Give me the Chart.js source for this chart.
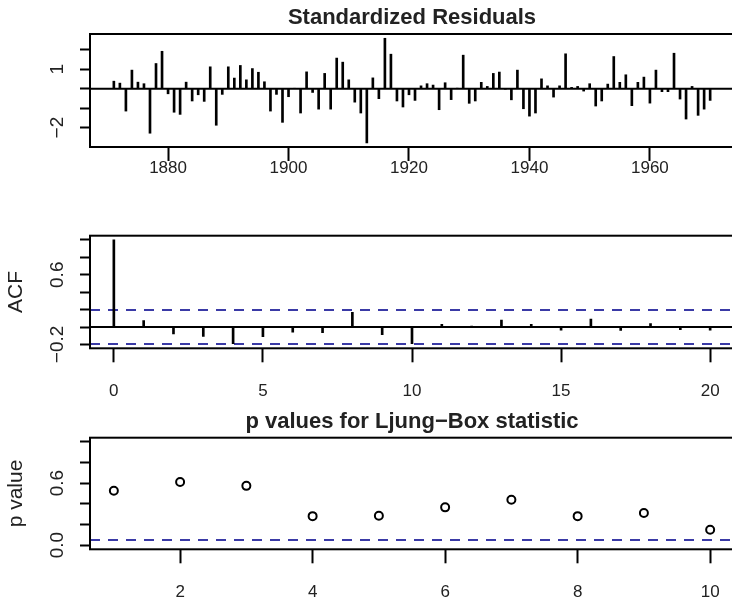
<!DOCTYPE html>
<html>
<head>
<meta charset="utf-8">
<script src="https://cdn.jsdelivr.net/npm/chart.js@4.4.1/dist/chart.umd.min.js"></script>
<style>
html, body { margin: 0; padding: 0; background: #fff; overflow: hidden; }
#wrap { position: relative; width: 732px; height: 606px; overflow: hidden; }
canvas { position: absolute; left: 0; }
</style>
</head>
<body>
<div id="wrap">
  <canvas id="resid" width="740" height="212" style="top:0px"></canvas>
  <canvas id="acf" width="740" height="198" style="top:212px"></canvas>
  <canvas id="lb" width="740" height="206" style="top:400px"></canvas>
</div>
<script>
// standardized residuals, 1871..1970
const firstYear = 1871
const resid = [
    0.39, 0.29, -1.15, 0.96, 0.34, 0.26, -2.29, 1.30, 1.93, -0.26,
    -1.21, -1.32, 0.34, -0.63, -0.31, -0.65, 1.13, -1.88, -0.29, 1.13,
    0.55, 1.20, 0.46, 1.04, 0.85, 0.36, -1.15, -0.29, -1.73, -0.41,
    0.02, -1.25, 0.87, -0.19, -1.05, 0.79, -1.05, 1.58, 1.37, 0.46,
    -0.69, -1.25, -2.79, 0.56, -0.51, 2.60, 1.78, -0.63, -0.94, -0.31,
    -0.60, 0.15, 0.26, 0.19, -1.08, 0.31, -0.56, 0.03, 1.73, -0.75,
    -0.63, 0.33, 0.12, 0.79, 0.86, -0.02, -0.57, 0.96, -1.03, -1.41,
    -1.25, 0.51, 0.15, -0.43, 0.15, 1.80, 0.07, 0.12, -0.12, 0.26,
    -0.89, -0.63, 0.24, 1.66, 0.33, 0.72, -0.87, 0.33, 0.60, -0.74,
    0.96, -0.15, -0.15, 1.83, -0.53, -1.56, 0.12, -1.37, -1.05, -0.60
]
const years = resid.map((v, i) => firstYear + i)
const residXTicks = [1880, 1900, 1920, 1940, 1960]
const residYTicks = [-2, -1, 0, 1, 2]
const residYLabels = ['\u22122', '', '', '1', '']

// ACF of residuals
const acfLags = [0, 1, 2, 3, 4, 5, 6, 7, 8, 9, 10, 11, 12, 13, 14, 15, 16, 17, 18, 19, 20]
const acfValues = [1.0, 0.073, -0.08, -0.107, -0.19, -0.11, -0.06, -0.065, 0.17, -0.088, -0.19,
    0.03, 0.01, 0.08, 0.03, -0.035, 0.092, -0.04, 0.04, -0.03, -0.035]
const acfBound = 0.196
const acfXTicks = [0, 5, 10, 15, 20]
const acfYTicks = [-0.2, 0, 0.2, 0.4, 0.6, 0.8, 1.0]
const acfYLabels = ['\u22120.2', '', '', '', '0.6', '', '']

// Ljung-Box p values
const lbLags = [1, 2, 3, 4, 5, 6, 7, 8, 9, 10]
const lbPvals = [0.527, 0.612, 0.574, 0.281, 0.284, 0.366, 0.439, 0.281, 0.312, 0.149]
const lbBound = 0.05
const lbXTicks = [2, 4, 6, 8, 10]
const lbYTicks = [0, 0.2, 0.4, 0.6, 0.8, 1.0]
const lbYLabels = ['0.0', '', '', '0.6', '', '']

const sans = "'Liberation Sans', Arial, sans-serif"
const ink = '#222'
const blue = '#3a3aa6'
const yFontSize = 19
const xFontSize = 17

Chart.defaults.animation = false
Chart.defaults.color = ink

// R-like box round the plot region
const frame = {
    id: 'frame',
    afterDatasetsDraw(chart) {
        const a = chart.chartArea
        const c = chart.ctx
        c.save()
        c.lineWidth = 2
        c.strokeStyle = '#000'
        c.strokeRect(a.left, a.top, a.right - a.left, a.bottom - a.top)
        c.restore()
    }
}

// padding so rotated y labels are centred at x=58
var mctx = document.createElement('canvas').getContext('2d')
function yPad(labels) {
    mctx.font = yFontSize + "px " + sans
    var widest = Math.max.apply(Math, labels.map(l => mctx.measureText(l).width))
    return 90 - 58 - 10 - widest / 2
}

function xScale(min, max, ticks, h, pad) {
    return {
        type: 'linear',
        min: min,
        max: max,
        offset: false,
        afterBuildTicks: s => { s.ticks = ticks.map(v => ({ value: v })) },
        afterFit: s => { s.height = h },
        grid: { display: true, offset: false, drawOnChartArea: false, drawTicks: true, tickLength: 14, tickWidth: 2, tickColor: '#000' },
        border: { display: false },
        ticks: {
            autoSkip: false, maxRotation: 0, padding: pad, color: ink,
            font: { family: sans, size: xFontSize },
            callback: v => String(v)
        }
    }
}

function yScale(min, max, ticks, labels, title) {
    return {
        type: 'linear',
        min: min,
        max: max,
        afterBuildTicks: s => { s.ticks = ticks.map(v => ({ value: v })) },
        afterFit: s => { s.width = 90 },
        grid: { display: true, offset: false, drawOnChartArea: false, drawTicks: true, tickLength: 10, tickWidth: 2, tickColor: '#000' },
        border: { display: false },
        ticks: {
            autoSkip: false, minRotation: 90, maxRotation: 90, crossAlign: 'center',
            padding: yPad(labels), color: ink,
            font: { family: sans, size: yFontSize },
            callback: (v, i) => labels[i]
        },
        title: {
            display: !!title, text: title || '', color: ink,
            font: { family: sans, size: 21 },
            padding: { top: 4, bottom: 0 }
        }
    }
}

function plugins(title, top) {
    return {
        legend: { display: false },
        tooltip: { enabled: false },
        title: {
            display: !!title, text: title || '', fullSize: false, color: ink,
            font: { family: sans, size: 22, weight: 'bold' },
            padding: { top: top, bottom: 2.8 }
        }
    }
}

function hline(y, x0, x1, color, dash) {
    return {
        type: 'line',
        data: [{ x: x0, y: y }, { x: x1, y: y }],
        borderColor: color, borderWidth: 2, borderDash: dash || [],
        pointRadius: 0, fill: false
    }
}

// --- top: standardized residuals ---
const rx0 = 1867.04, rx1 = 1973.96
new Chart(document.getElementById('resid'), {
    type: 'bar',
    data: {
        datasets: [{
                data: years.map((y, i) => ({ x: y, y: resid[i] })),
                backgroundColor: '#000',
                borderWidth: 0,
                barThickness: 2
            },
            hline(0, rx0, rx1, '#000')
        ]
    },
    options: {
        responsive: false,
        layout: { padding: { left: 0, right: 6, top: 0, bottom: 0 } },
        plugins: plugins('Standardized Residuals', 4.8),
        scales: {
            x: xScale(rx0, rx1, residXTicks, 65, -3),
            y: yScale(-3.0, 2.82, residYTicks, residYLabels, '')
        }
    },
    plugins: [frame]
})

// --- middle: ACF ---
const ax0 = -0.8, ax1 = 20.8
new Chart(document.getElementById('acf'), {
    type: 'bar',
    data: {
        datasets: [{
                data: acfLags.map((l, i) => ({ x: l, y: acfValues[i] })),
                backgroundColor: '#000',
                borderWidth: 0,
                barThickness: 2
            },
            hline(0, ax0, ax1, '#000'),
            hline(acfBound, ax0, ax1, blue, [10, 8]),
            hline(-acfBound, ax0, ax1, blue, [10, 8])
        ]
    },
    options: {
        responsive: false,
        layout: { padding: { left: 0, right: 6, top: 23.7, bottom: 0 } },
        plugins: plugins('', 0),
        scales: {
            x: xScale(ax0, ax1, acfXTicks, 61.7, 19.3),
            y: yScale(-0.244, 1.048, acfYTicks, acfYLabels, 'ACF')
        }
    },
    plugins: [frame]
})

// --- bottom: Ljung-Box p values ---
const px0 = 0.64, px1 = 10.36
new Chart(document.getElementById('lb'), {
    type: 'scatter',
    data: {
        datasets: [{
                data: lbLags.map((l, i) => ({ x: l, y: lbPvals[i] })),
                pointStyle: 'circle',
                pointRadius: 4,
                pointBorderWidth: 2,
                borderColor: '#000',
                backgroundColor: 'rgba(0,0,0,0)'
            },
            hline(lbBound, px0, px1, blue, [10, 8])
        ]
    },
    options: {
        responsive: false,
        layout: { padding: { left: 0, right: 6, top: 0, bottom: 0 } },
        plugins: plugins('p values for Ljung\u2212Box statistic', 8.5),
        scales: {
            x: xScale(px0, px1, lbXTicks, 56.7, 19.3),
            y: yScale(-0.04, 1.04, lbYTicks, lbYLabels, 'p value')
        }
    },
    plugins: [frame]
})
</script>
</body>
</html>
